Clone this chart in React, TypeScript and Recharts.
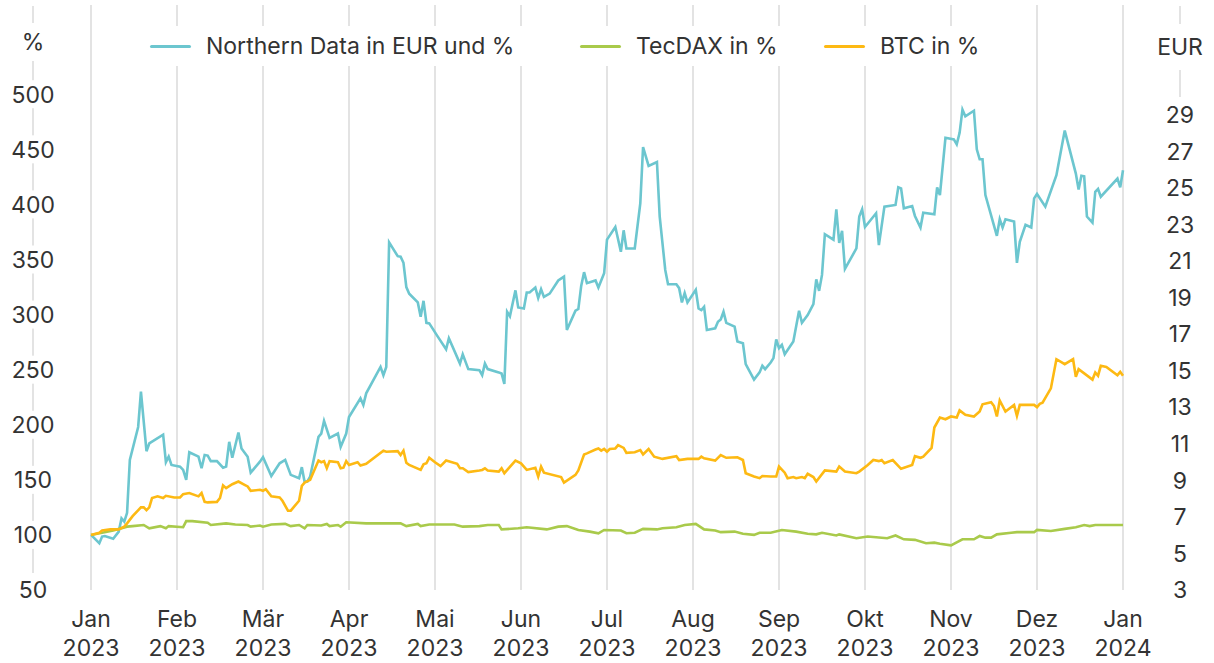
import { LineChart, Line, XAxis, YAxis, CartesianGrid, Legend } from 'recharts'

const monthLabels = ['Jan', 'Feb', 'Mär', 'Apr', 'Mai', 'Jun', 'Jul', 'Aug', 'Sep', 'Okt', 'Nov', 'Dez', 'Jan']
const yearLabels = ['2023', '2023', '2023', '2023', '2023', '2023', '2023', '2023', '2023', '2023', '2023', '2023', '2024']
const monthTicks = [0, 1, 2, 3, 4, 5, 6, 7, 8, 9, 10, 11, 12]
const pctTicks = [50, 100, 150, 200, 250, 300, 350, 400, 450, 500]
const eurTicks = [3, 5, 7, 9, 11, 13, 15, 17, 19, 21, 23, 25, 27, 29]

// Northern Data, indexed to 100 % (start ~6 EUR)
const northernData: [string, number][] = [
  ['2023-01-01', 100], ['2023-01-04', 92.5], ['2023-01-05', 98.5], ['2023-01-06', 99], ['2023-01-09', 96.5],
  ['2023-01-11', 103], ['2023-01-12', 115], ['2023-01-13', 112], ['2023-01-14', 120], ['2023-01-15', 168],
  ['2023-01-18', 198], ['2023-01-19', 230], ['2023-01-21', 176], ['2023-01-22', 183], ['2023-01-27', 191],
  ['2023-01-28', 166], ['2023-01-29', 171], ['2023-01-30', 163.5],
  ['2023-02-02', 162], ['2023-02-03', 159], ['2023-02-04', 150], ['2023-02-05', 175], ['2023-02-08', 171],
  ['2023-02-09', 160.5], ['2023-02-10', 172.5], ['2023-02-11', 172], ['2023-02-12', 167], ['2023-02-14', 167],
  ['2023-02-16', 161], ['2023-02-17', 162], ['2023-02-18', 184.5], ['2023-02-19', 170], ['2023-02-21', 193],
  ['2023-02-22', 178.5], ['2023-02-24', 171], ['2023-02-25', 156.5], ['2023-02-28', 166.5],
  ['2023-03-01', 170.5], ['2023-03-04', 153.5], ['2023-03-07', 165], ['2023-03-09', 168], ['2023-03-11', 154.5],
  ['2023-03-14', 151.5], ['2023-03-15', 161.5], ['2023-03-16', 148], ['2023-03-17', 148.5], ['2023-03-18', 153],
  ['2023-03-21', 189], ['2023-03-22', 192], ['2023-03-23', 203.5], ['2023-03-25', 188], ['2023-03-28', 192],
  ['2023-03-29', 180], ['2023-03-31', 192],
  ['2023-04-01', 207], ['2023-04-05', 224], ['2023-04-06', 218], ['2023-04-07', 228.5], ['2023-04-12', 252.5],
  ['2023-04-13', 245], ['2023-04-14', 252.5], ['2023-04-15', 365.5], ['2023-04-18', 353], ['2023-04-19', 352.5],
  ['2023-04-20', 347], ['2023-04-21', 325], ['2023-04-22', 319], ['2023-04-25', 311], ['2023-04-26', 298],
  ['2023-04-27', 312.5], ['2023-04-28', 292.5], ['2023-04-29', 292],
  ['2023-05-02', 280], ['2023-05-05', 268.5], ['2023-05-06', 278.5], ['2023-05-10', 255.5], ['2023-05-11', 264],
  ['2023-05-13', 250.5], ['2023-05-17', 249.5], ['2023-05-18', 245], ['2023-05-19', 255.5], ['2023-05-20', 250.5],
  ['2023-05-24', 247.5], ['2023-05-25', 246.5], ['2023-05-26', 237], ['2023-05-27', 302.5], ['2023-05-28', 298.5],
  ['2023-05-30', 322], ['2023-05-31', 306.5],
  ['2023-06-02', 305.5], ['2023-06-03', 320], ['2023-06-04', 320], ['2023-06-06', 324.5], ['2023-06-07', 315],
  ['2023-06-08', 323], ['2023-06-09', 316], ['2023-06-11', 319], ['2023-06-14', 331], ['2023-06-16', 334.5],
  ['2023-06-17', 286], ['2023-06-20', 303.5], ['2023-06-21', 305], ['2023-06-22', 326], ['2023-06-23', 338.5],
  ['2023-06-24', 328.5], ['2023-06-27', 331], ['2023-06-28', 324.5], ['2023-06-30', 337.5],
  ['2023-07-01', 368], ['2023-07-04', 379.5], ['2023-07-06', 357], ['2023-07-07', 376.5], ['2023-07-08', 360],
  ['2023-07-11', 360], ['2023-07-13', 401], ['2023-07-14', 452], ['2023-07-16', 435], ['2023-07-19', 438.5],
  ['2023-07-20', 389], ['2023-07-22', 340.5], ['2023-07-23', 327.5], ['2023-07-26', 327.5], ['2023-07-27', 324],
  ['2023-07-28', 311], ['2023-07-29', 319.5], ['2023-07-30', 311],
  ['2023-08-02', 322.5], ['2023-08-03', 305.5], ['2023-08-04', 304], ['2023-08-05', 307], ['2023-08-06', 286],
  ['2023-08-09', 287.5], ['2023-08-10', 293.5], ['2023-08-11', 295.5], ['2023-08-12', 302.5], ['2023-08-13', 292.5],
  ['2023-08-16', 289], ['2023-08-17', 275.5], ['2023-08-19', 274], ['2023-08-20', 255], ['2023-08-23', 241],
  ['2023-08-25', 247.5], ['2023-08-26', 253.5], ['2023-08-27', 250.5], ['2023-08-29', 256.5], ['2023-08-30', 260.5],
  ['2023-08-31', 277.5],
  ['2023-09-01', 269.5], ['2023-09-02', 272.5], ['2023-09-03', 264], ['2023-09-06', 275.5], ['2023-09-08', 303.5],
  ['2023-09-09', 292.5], ['2023-09-11', 299.5], ['2023-09-13', 309.5], ['2023-09-14', 332], ['2023-09-15', 321.5],
  ['2023-09-16', 336], ['2023-09-17', 373], ['2023-09-20', 368], ['2023-09-21', 395.5], ['2023-09-22', 365],
  ['2023-09-23', 376], ['2023-09-24', 341.5], ['2023-09-28', 360], ['2023-09-29', 389], ['2023-09-30', 395.5],
  ['2023-10-01', 379.5], ['2023-10-05', 392], ['2023-10-06', 363], ['2023-10-08', 398], ['2023-10-12', 399.5],
  ['2023-10-13', 415.5], ['2023-10-14', 414.5], ['2023-10-15', 396.5], ['2023-10-18', 398.5], ['2023-10-19', 389.5],
  ['2023-10-21', 379], ['2023-10-22', 392.5], ['2023-10-26', 391], ['2023-10-27', 415.5], ['2023-10-28', 408.5],
  ['2023-10-30', 460.5],
  ['2023-11-02', 459], ['2023-11-03', 454.5], ['2023-11-04', 465], ['2023-11-05', 486], ['2023-11-06', 480],
  ['2023-11-09', 485], ['2023-11-10', 450], ['2023-11-11', 441], ['2023-11-12', 441], ['2023-11-13', 408.5],
  ['2023-11-17', 371.5], ['2023-11-18', 386.5], ['2023-11-19', 379], ['2023-11-20', 386.5], ['2023-11-23', 384.5],
  ['2023-11-24', 347], ['2023-11-25', 366], ['2023-11-27', 381.5], ['2023-11-29', 379], ['2023-11-30', 405.5],
  ['2023-12-01', 409.5], ['2023-12-04', 398], ['2023-12-08', 426.5], ['2023-12-11', 467], ['2023-12-15', 428],
  ['2023-12-16', 413.5], ['2023-12-17', 426], ['2023-12-18', 425.5], ['2023-12-19', 389], ['2023-12-21', 383.5],
  ['2023-12-22', 411.5], ['2023-12-23', 414], ['2023-12-24', 407], ['2023-12-30', 423.5], ['2023-12-31', 415.5],
  ['2024-01-01', 431],
]

const tecdax: [string, number][] = [
  ['2023-01-01', 100], ['2023-01-09', 104], ['2023-01-14', 107.5], ['2023-01-16', 108], ['2023-01-20', 109],
  ['2023-01-22', 106], ['2023-01-26', 108], ['2023-01-28', 106], ['2023-01-29', 108],
  ['2023-02-03', 107], ['2023-02-04', 112.5], ['2023-02-06', 112.5], ['2023-02-11', 111], ['2023-02-12', 109],
  ['2023-02-17', 110.5], ['2023-02-20', 109.5], ['2023-02-24', 109], ['2023-02-25', 107.5], ['2023-02-28', 108.5],
  ['2023-03-01', 107.5], ['2023-03-04', 109.5], ['2023-03-09', 110], ['2023-03-11', 108], ['2023-03-14', 109],
  ['2023-03-16', 106], ['2023-03-17', 109], ['2023-03-22', 108.5], ['2023-03-24', 110], ['2023-03-25', 108],
  ['2023-03-28', 109], ['2023-03-29', 107.5], ['2023-03-31', 111.5],
  ['2023-04-07', 110.5], ['2023-04-19', 110.5], ['2023-04-21', 108], ['2023-04-25', 110], ['2023-04-26', 108],
  ['2023-04-29', 109.5],
  ['2023-05-08', 109.5], ['2023-05-11', 107.5], ['2023-05-17', 108], ['2023-05-20', 109], ['2023-05-24', 109],
  ['2023-05-25', 105], ['2023-05-31', 106],
  ['2023-06-03', 107], ['2023-06-10', 105], ['2023-06-14', 107.5], ['2023-06-17', 108], ['2023-06-21', 104.5],
  ['2023-06-25', 103], ['2023-06-28', 101.5], ['2023-06-30', 104.5],
  ['2023-07-06', 104], ['2023-07-08', 101.5], ['2023-07-11', 102], ['2023-07-14', 105.5], ['2023-07-19', 105],
  ['2023-07-21', 106], ['2023-07-26', 107], ['2023-07-29', 109],
  ['2023-08-02', 110], ['2023-08-05', 105], ['2023-08-09', 104], ['2023-08-11', 102.5], ['2023-08-16', 103],
  ['2023-08-19', 101], ['2023-08-23', 100], ['2023-08-25', 102], ['2023-08-29', 102],
  ['2023-09-02', 104.5], ['2023-09-07', 103], ['2023-09-11', 101], ['2023-09-14', 100.5], ['2023-09-16', 102],
  ['2023-09-21', 99.5], ['2023-09-22', 100.5], ['2023-09-28', 97],
  ['2023-10-02', 98.5], ['2023-10-09', 97], ['2023-10-12', 99.5], ['2023-10-15', 96], ['2023-10-19', 95.5],
  ['2023-10-23', 92.5], ['2023-10-26', 93], ['2023-10-28', 92],
  ['2023-11-01', 90.5], ['2023-11-05', 96], ['2023-11-09', 96], ['2023-11-11', 99], ['2023-11-13', 97.5],
  ['2023-11-15', 97.5], ['2023-11-17', 100.5], ['2023-11-22', 102], ['2023-11-24', 102.5], ['2023-11-30', 102.5],
  ['2023-12-01', 104.5], ['2023-12-06', 103.5], ['2023-12-11', 105.5], ['2023-12-15', 107], ['2023-12-18', 109],
  ['2023-12-20', 108], ['2023-12-22', 109], ['2023-12-27', 109], ['2024-01-01', 109],
]

const btc: [string, number][] = [
  ['2023-01-01', 100], ['2023-01-04', 102], ['2023-01-05', 104], ['2023-01-08', 105], ['2023-01-11', 105],
  ['2023-01-13', 107.5], ['2023-01-14', 110.5], ['2023-01-16', 117], ['2023-01-19', 125], ['2023-01-20', 125],
  ['2023-01-21', 122.5], ['2023-01-22', 125], ['2023-01-23', 133.5], ['2023-01-25', 135], ['2023-01-27', 133.5],
  ['2023-01-28', 135.5], ['2023-01-31', 134],
  ['2023-02-02', 134], ['2023-02-03', 137], ['2023-02-05', 138], ['2023-02-08', 135], ['2023-02-09', 138],
  ['2023-02-10', 130], ['2023-02-11', 129.5], ['2023-02-14', 130], ['2023-02-15', 133.5], ['2023-02-16', 145],
  ['2023-02-17', 142.5], ['2023-02-19', 146], ['2023-02-21', 148.5], ['2023-02-23', 145.5], ['2023-02-24', 144],
  ['2023-02-25', 140], ['2023-02-28', 141],
  ['2023-03-01', 140], ['2023-03-02', 141.5], ['2023-03-04', 135], ['2023-03-07', 134], ['2023-03-08', 131],
  ['2023-03-10', 122], ['2023-03-11', 122], ['2023-03-14', 131], ['2023-03-15', 144.5], ['2023-03-16', 147.5],
  ['2023-03-18', 150], ['2023-03-21', 167.5], ['2023-03-22', 166], ['2023-03-23', 167], ['2023-03-24', 160.5],
  ['2023-03-25', 167], ['2023-03-28', 166], ['2023-03-29', 160.5], ['2023-03-30', 161], ['2023-03-31', 167],
  ['2023-04-01', 163.5], ['2023-04-04', 166], ['2023-04-05', 163], ['2023-04-07', 164.5], ['2023-04-13', 176.5],
  ['2023-04-14', 175.5], ['2023-04-18', 176], ['2023-04-19', 172.5], ['2023-04-20', 176.5], ['2023-04-21', 165.5],
  ['2023-04-22', 163.5], ['2023-04-26', 159], ['2023-04-27', 164], ['2023-04-28', 165], ['2023-04-29', 170],
  ['2023-05-01', 166], ['2023-05-03', 162.5], ['2023-05-05', 167.5], ['2023-05-09', 164.5], ['2023-05-10', 160.5],
  ['2023-05-11', 160.5], ['2023-05-13', 157], ['2023-05-17', 158.5], ['2023-05-18', 159], ['2023-05-19', 160.5],
  ['2023-05-20', 158.5], ['2023-05-24', 157.5], ['2023-05-25', 160.5], ['2023-05-26', 156], ['2023-05-30', 167.5],
  ['2023-06-01', 165], ['2023-06-03', 159], ['2023-06-06', 161], ['2023-06-07', 153], ['2023-06-08', 162],
  ['2023-06-09', 156.5], ['2023-06-15', 152.5], ['2023-06-16', 147.5], ['2023-06-20', 154.5], ['2023-06-21', 158.5],
  ['2023-06-23', 173], ['2023-06-24', 174], ['2023-06-27', 177.5], ['2023-06-28', 178.5], ['2023-06-29', 176.5],
  ['2023-06-30', 178],
  ['2023-07-01', 175.5], ['2023-07-02', 178], ['2023-07-04', 178.5], ['2023-07-05', 181.5], ['2023-07-07', 179],
  ['2023-07-08', 174.5], ['2023-07-11', 175], ['2023-07-13', 177], ['2023-07-14', 173], ['2023-07-16', 178],
  ['2023-07-18', 171], ['2023-07-21', 169], ['2023-07-26', 171.5], ['2023-07-27', 168], ['2023-07-30', 169],
  ['2023-08-03', 169], ['2023-08-04', 171], ['2023-08-05', 169.5], ['2023-08-09', 167.5], ['2023-08-11', 172.5],
  ['2023-08-13', 170], ['2023-08-17', 170.5], ['2023-08-19', 168], ['2023-08-20', 156], ['2023-08-23', 153],
  ['2023-08-25', 151.5], ['2023-08-26', 153.5], ['2023-08-29', 153], ['2023-08-31', 153],
  ['2023-09-01', 162], ['2023-09-03', 156.5], ['2023-09-04', 151.5], ['2023-09-06', 152.5], ['2023-09-07', 151.5],
  ['2023-09-09', 152.5], ['2023-09-10', 151.5], ['2023-09-11', 155.5], ['2023-09-13', 152.5], ['2023-09-14', 148.5],
  ['2023-09-17', 158.5], ['2023-09-21', 157.5], ['2023-09-22', 162], ['2023-09-24', 157.5], ['2023-09-28', 156],
  ['2023-09-29', 157.5],
  ['2023-10-02', 163.5], ['2023-10-04', 168], ['2023-10-06', 167], ['2023-10-07', 168], ['2023-10-08', 165],
  ['2023-10-11', 168], ['2023-10-14', 160], ['2023-10-18', 163.5], ['2023-10-19', 171.5], ['2023-10-21', 170],
  ['2023-10-22', 171], ['2023-10-25', 179], ['2023-10-26', 197.5], ['2023-10-28', 206.5], ['2023-10-30', 205],
  ['2023-11-01', 207.5], ['2023-11-03', 206.5], ['2023-11-04', 213], ['2023-11-06', 209], ['2023-11-09', 207.5],
  ['2023-11-11', 212], ['2023-11-12', 218.5], ['2023-11-15', 220.5], ['2023-11-16', 217], ['2023-11-17', 207.5],
  ['2023-11-18', 222], ['2023-11-20', 212], ['2023-11-23', 218], ['2023-11-24', 208], ['2023-11-25', 218],
  ['2023-11-30', 218],
  ['2023-12-01', 216], ['2023-12-02', 219], ['2023-12-03', 220], ['2023-12-06', 233], ['2023-12-08', 259.5],
  ['2023-12-11', 255], ['2023-12-14', 259.5], ['2023-12-15', 243.5], ['2023-12-16', 250.5], ['2023-12-21', 241],
  ['2023-12-22', 247.5], ['2023-12-23', 244.5], ['2023-12-24', 253.5], ['2023-12-26', 252.5], ['2023-12-30', 245],
  ['2023-12-31', 248], ['2024-01-01', 244.5],
]

const TEAL = '#6cc6cf'
const GREEN = '#a9ca4b'
const YELLOW = '#fdb913'
const TEXT = '#333333'
const GRID = '#dadada'
const FONT = 'Inter, "Noto Sans", sans-serif'
const FONT_SIZE = 23

const legendItems = [
  { label: 'Northern Data in EUR und %', color: TEAL, left: 10 },
  { label: 'TecDAX in %', color: GREEN, left: 440 },
  { label: 'BTC in %', color: YELLOW, left: 684 },
]

// month index + fraction of month, so every month gets the same width
function monthPos(date: string) {
  const [y, m, d] = date.split('-').map(Number)
  const days = new Date(y, m, 0).getDate()
  return (y - 2023) * 12 + (m - 1) + (d - 1) / days
}

const toRows = (series: [string, number][]) => series.map(([d, v]) => ({ t: monthPos(d), v }))

const ndRows = toRows(northernData)
const tecRows = toRows(tecdax)
const btcRows = toRows(btc)

const LEFT_LABEL_X = 33
const RIGHT_LABEL_X = 1180

function LeftTick({ y, payload }: any) {
  return (
    <g>
      <rect x={LEFT_LABEL_X - 27} y={y - 14} width={54} height={28} fill="#fff" />
      <text x={LEFT_LABEL_X} y={y} dy="0.36em" textAnchor="middle" fill={TEXT} fontSize={FONT_SIZE}>{payload.value}</text>
    </g>
  )
}

function RightTick({ y, payload }: any) {
  return (
    <text x={RIGHT_LABEL_X} y={y} dy="0.36em" textAnchor="middle" fill={TEXT} fontSize={FONT_SIZE}>{payload.value}</text>
  )
}

function MonthTick({ x, y, payload }: any) {
  const i = payload.value as number
  return (
    <text x={x} textAnchor="middle" fill={TEXT} fontSize={FONT_SIZE}>
      <tspan x={x} y={y + 29} dy="0.36em">{monthLabels[i]}</tspan>
      <tspan x={x} y={y + 58} dy="0.36em">{yearLabels[i]}</tspan>
    </text>
  )
}

function LegendContent() {
  return (
    <div style={{ position: 'relative', width: '100%', height: '100%' }}>
      {legendItems.map((it) => (
        <div key={it.label} style={{ position: 'absolute', left: it.left, top: 0, height: 40, display: 'flex', alignItems: 'center', whiteSpace: 'nowrap' }}>
          <span style={{ display: 'inline-block', width: 41, height: 3, background: it.color, borderRadius: 2, marginRight: 15 }} />
          <span style={{ fontSize: FONT_SIZE, color: TEXT, fontFamily: FONT }}>{it.label}</span>
        </div>
      ))}
    </div>
  )
}

export default function App() {
  return (
    <div style={{ position: 'absolute', left: 0, top: 0, width: 1214, height: 663, background: '#fff', fontFamily: FONT }}>
      {/* axis rails behind the tick labels */}
      <svg width={1214} height={663} style={{ position: 'absolute', left: 0, top: 0 }}>
        <line x1={LEFT_LABEL_X} x2={LEFT_LABEL_X} y1={6} y2={573} stroke={GRID} strokeWidth={1.5} />
        <line x1={RIGHT_LABEL_X} x2={RIGHT_LABEL_X} y1={6} y2={97} stroke={GRID} strokeWidth={1.5} />
        <rect x={LEFT_LABEL_X - 20} y={23} width={40} height={38} fill="#fff" />
        <text x={LEFT_LABEL_X} y={42} dy="0.36em" textAnchor="middle" fill={TEXT} fontSize={FONT_SIZE} fontFamily={FONT}>%</text>
        <rect x={RIGHT_LABEL_X - 30} y={24} width={60} height={46} fill="#fff" />
        <text x={RIGHT_LABEL_X} y={47} dy="0.36em" textAnchor="middle" fill={TEXT} fontSize={FONT_SIZE} fontFamily={FONT}>EUR</text>
      </svg>
      <div style={{ position: 'absolute', left: 0, top: 0 }}>
        <LineChart width={1214} height={663} margin={{ top: 5, right: 0, bottom: 0, left: 0 }}>
          <CartesianGrid vertical horizontal={false} stroke={GRID} strokeWidth={1.5} />
          <XAxis
            dataKey="t"
            type="number"
            domain={[0, 12]}
            ticks={monthTicks}
            interval={0}
            height={73}
            axisLine={false}
            tickLine={false}
            tickSize={0}
            tickMargin={0}
            tick={<MonthTick />}
          />
          <YAxis
            yAxisId="pct"
            type="number"
            domain={[50, 581]}
            ticks={pctTicks}
            allowDataOverflow
            width={91}
            axisLine={false}
            tickLine={false}
            tick={<LeftTick />}
          />
          <YAxis
            yAxisId="eur"
            orientation="right"
            type="number"
            domain={[3, 35]}
            ticks={eurTicks}
            allowDataOverflow
            width={91}
            axisLine={false}
            tickLine={false}
            tick={<RightTick />}
          />
          <Legend
            layout="horizontal"
            verticalAlign="middle"
            align="center"
            wrapperStyle={{ top: 26, left: 140, width: 860, height: 40, backgroundColor: '#fff' }}
            content={<LegendContent />}
          />
          <Line yAxisId="pct" data={ndRows} dataKey="v" name="Northern Data in EUR und %" stroke={TEAL} strokeWidth={2.6} dot={false} isAnimationActive={false} />
          <Line yAxisId="pct" data={tecRows} dataKey="v" name="TecDAX in %" stroke={GREEN} strokeWidth={2.6} dot={false} isAnimationActive={false} />
          <Line yAxisId="pct" data={btcRows} dataKey="v" name="BTC in %" stroke={YELLOW} strokeWidth={2.6} dot={false} isAnimationActive={false} />
        </LineChart>
      </div>
    </div>
  )
}
